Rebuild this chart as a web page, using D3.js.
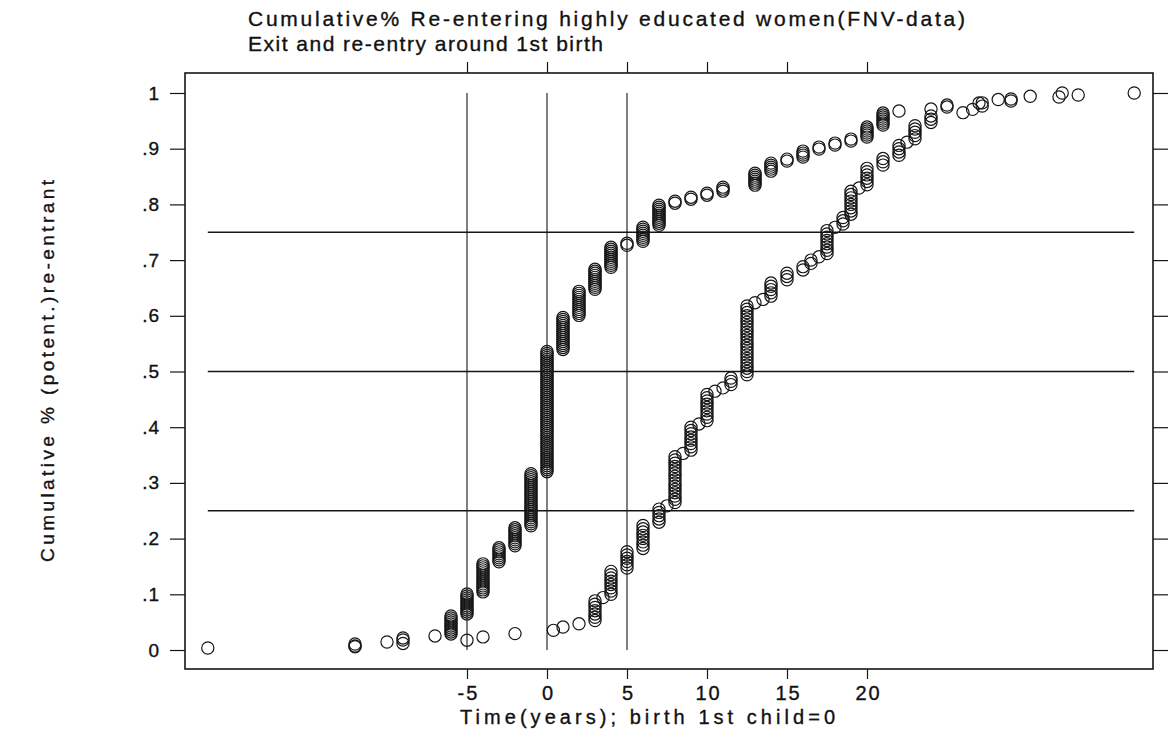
<!DOCTYPE html>
<html>
<head>
<meta charset="utf-8">
<script src="https://cdn.jsdelivr.net/npm/d3@7"></script>
<style>
  html, body { margin: 0; padding: 0; background: #fff; }
  svg { display: block; }
</style>
</head>
<body>
<svg id="chart" width="1168" height="741"></svg>
<script>
// Years relative to the birth of the first child, and how many women fall at each time.
// Series "exit": the steeper, upper curve.
const exitTimes  = [-21.2, -12, -10, -9, -7, -6, -5, -4, -3, -2, -1, 0, 1, 2, 3, 4, 5, 6, 7, 8, 9, 10, 11,
                    13, 14, 15, 16, 17, 18, 19, 20, 21, 22, 24, 25, 27, 29, 32, 33.2, 36.7];
const exitCounts = [1, 2, 1, 2, 1, 10, 11, 15, 8, 10, 27, 61, 17, 13, 11, 11, 2, 8, 11, 2, 2, 2, 3,
                    7, 5, 2, 4, 2, 2, 2, 6, 7, 1, 1, 2, 1, 2, 1, 1, 1];

// Series "re-entry": the lower curve further to the right.
const reentryTimes  = [-12, -9, -5, -4, -2, 0.4, 1, 2, 3, 3.5, 4, 5, 6, 7, 7.5, 8, 8.5, 9, 9.5, 10, 10.5, 11, 11.5,
                       12.5, 13, 13.5, 14, 15, 16, 16.5, 17, 17.5, 18, 18.5, 19, 19.5, 20, 21, 22, 22.5, 23,
                       24, 26, 26.6, 27.2, 28.2, 30.2, 32.2];
const reentryCounts = [1, 1, 1, 1, 1, 1, 1, 1, 7, 1, 8, 6, 8, 5, 1, 15, 1, 8, 1, 9, 1, 1, 3,
                       22, 1, 1, 5, 3, 2, 2, 1, 8, 1, 3, 8, 1, 6, 3, 4, 1, 5,
                       3, 1, 1, 2, 1, 1, 1];

// Axis ticks and labels
const xTicks = [-5, 0, 5, 10, 15, 20];
const xTickLabels = ["-5", "0", "5", "10", "15", "20"];
const yTicks = [0, 0.1, 0.2, 0.3, 0.4, 0.5, 0.6, 0.7, 0.8, 0.9, 1];
const yTickLabels = ["0", ".1", ".2", ".3", ".4", ".5", ".6", ".7", ".8", ".9", "1"];

// Reference lines
const quartileLines = [0.25, 0.5, 0.75];
const yearLines = [-5, 0, 5];

const titleLines = ["Cumulative% Re-entering highly educated women(FNV-data)",
                    "Exit and re-entry around 1st birth"];
const xTitle = "Time(years); birth 1st child=0";
const yTitle = "Cumulative % (potent.)re-entrant";

// ---------------------------------------------------------------
const FONT = "'Liberation Sans', Arial, Helvetica, sans-serif";
const INK = "#161616";

// Cumulative share: each woman is a point at her time, stacked by rank.
function cumulative(times, counts) {
  const total = d3.sum(counts);
  const pts = [];
  let k = 0;
  times.forEach((t, i) => {
    for (let j = 0; j < counts[i]; j++) {
      k += 1;
      pts.push({ t: t, p: k / total });
    }
  });
  return pts;
}
const exitPts = cumulative(exitTimes, exitCounts);
const reentryPts = cumulative(reentryTimes, reentryCounts);
const allPts = exitPts.concat(reentryPts);

const svg = d3.select("#chart");
svg.append("rect").attr("width", 1168).attr("height", 741).attr("fill", "#fff");

const plot = { left: 185, right: 1153, top: 73, bottom: 669 };

const x = d3.scaleLinear().domain([-22.625, 37.875]).range([plot.left, plot.right]);
const y = d3.scaleLinear().domain([-0.0341, 1.0359]).range([plot.bottom, plot.top]);

// Slightly heavier text strokes, like a plotter font
function inkText(sel) {
  sel.attr("fill", "#111").attr("stroke", "#111").attr("stroke-width", 0.35)
     .attr("font-family", FONT);
}

function styleAxis(g) {
  g.select(".domain").remove();
  g.selectAll(".tick line").attr("stroke", INK).attr("stroke-width", 1.2);
  g.selectAll(".tick text").call(inkText);
}

// Axes: ticks on all four sides, labels only left and bottom
svg.append("g")
  .attr("transform", `translate(${plot.left},0)`)
  .call(d3.axisLeft(y).tickValues(yTicks).tickSize(15).tickPadding(10)
        .tickFormat((d, i) => yTickLabels[i]))
  .call(styleAxis)
  .call(g => g.selectAll(".tick text").attr("font-size", 19).attr("letter-spacing", 1));

svg.append("g")
  .attr("transform", `translate(${plot.right},0)`)
  .call(d3.axisRight(y).tickValues(yTicks).tickSize(15).tickFormat(""))
  .call(styleAxis);

svg.append("g")
  .attr("transform", `translate(0,${plot.bottom})`)
  .call(d3.axisBottom(x).tickValues(xTicks).tickSize(10).tickPadding(7)
        .tickFormat((d, i) => xTickLabels[i]))
  .call(styleAxis)
  .call(g => g.selectAll(".tick text").attr("font-size", 20).attr("letter-spacing", 2)
               .attr("dx", 1));

svg.append("g")
  .attr("transform", `translate(0,${plot.top})`)
  .call(d3.axisTop(x).tickValues(xTicks).tickSize(11).tickFormat(""))
  .call(styleAxis);

// Frame
svg.append("rect")
  .attr("x", plot.left).attr("y", plot.top)
  .attr("width", plot.right - plot.left).attr("height", plot.bottom - plot.top)
  .attr("fill", "none").attr("stroke", INK).attr("stroke-width", 1.6);

// Quartile lines across the observed time span; year lines over the 0..1 range
const tExtent = d3.extent(allPts, d => d.t);
svg.append("g").selectAll("line").data(quartileLines).join("line")
  .attr("x1", x(tExtent[0])).attr("x2", x(tExtent[1]))
  .attr("y1", d => y(d)).attr("y2", d => y(d))
  .attr("stroke", INK).attr("stroke-width", 1.4);

svg.append("g").selectAll("line").data(yearLines).join("line")
  .attr("x1", d => x(d)).attr("x2", d => x(d))
  .attr("y1", y(0)).attr("y2", y(1))
  .attr("stroke", INK).attr("stroke-width", 1.1);

// Markers
function drawSeries(pts) {
  svg.append("g").selectAll("circle").data(pts).join("circle")
    .attr("cx", d => x(d.t)).attr("cy", d => y(d.p))
    .attr("r", 6.1)
    .attr("fill", "none").attr("stroke", INK).attr("stroke-width", 1.2);
}
drawSeries(exitPts);
drawSeries(reentryPts);

// Titles
const title = svg.append("g").attr("font-size", 21);
title.append("text").attr("x", 248).attr("y", 26).call(inkText)
  .attr("textLength", 717).attr("lengthAdjust", "spacing").text(titleLines[0]);
title.append("text").attr("x", 248).attr("y", 51).call(inkText)
  .attr("textLength", 355).attr("lengthAdjust", "spacing").text(titleLines[1]);

svg.append("text")
  .attr("x", 460).attr("y", 724).call(inkText)
  .attr("font-size", 20)
  .attr("textLength", 375).attr("lengthAdjust", "spacing")
  .text(xTitle);

svg.append("text")
  .attr("transform", "translate(54,371) rotate(-90)")
  .attr("text-anchor", "middle").call(inkText)
  .attr("font-size", 19)
  .attr("textLength", 382).attr("lengthAdjust", "spacing")
  .text(yTitle);
</script>
</body>
</html>
